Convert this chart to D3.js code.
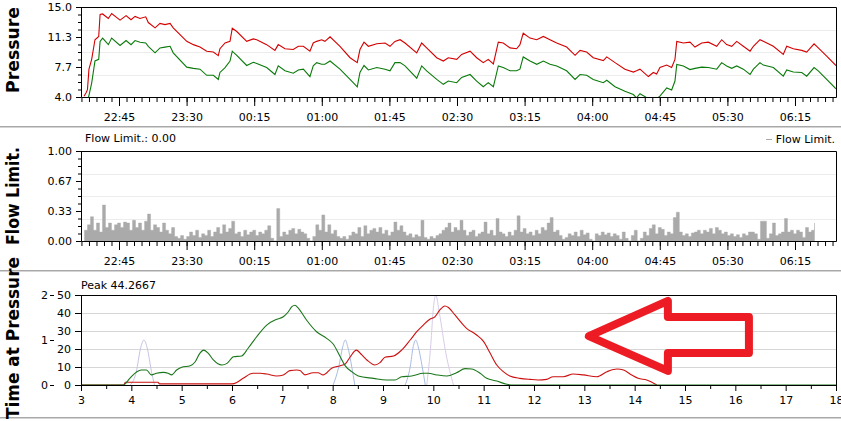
<!DOCTYPE html>
<html><head><meta charset="utf-8">
<script src="https://cdn.jsdelivr.net/npm/d3@7"></script>
<style>
body{margin:0;background:#fff}
svg{display:block;font-family:"DejaVu Sans",Verdana,sans-serif}
</style></head><body>
<svg id="c" width="841" height="421"></svg>
<script>
// ---------- DATA ----------
// Pressure panel: time in minutes after 22:00
const pressureTime = [21.7,23.0,24.0,25.0,26.8,29.0,31.5,32.4,34.1,37.9,40.1,45.7,49.7,53.0,55.7,59.0,62.8,64.5,69.0,72.3,75.6,79.0,81.1,90.1,94.5,98.9,103.4,107.8,111.1,112.2,115.6,118.9,120.4,123.4,130.0,134.4,136.7,143.3,148.8,151.0,155.5,161.0,164.4,167.7,172.1,174.3,176.6,179.9,182.1,185.5,192.1,198.8,203.6,205.4,208.1,211.0,216.6,222.1,225.4,228.7,232.1,235.4,243.2,246.5,249.8,256.5,260.9,264.2,269.8,273.1,278.7,283.1,287.5,290.8,294.2,297.5,300.8,305.3,309.7,311.9,314.1,318.6,323.1,327.5,331.9,336.4,343.0,348.6,351.9,356.3,360.7,367.4,369.7,375.2,381.8,387.4,389.5,391.8,397.4,400.7,402.9,405.1,409.6,412.9,415.1,416.3,420.7,425.1,428.4,432.9,437.3,442.9,446.2,449.5,452.9,456.2,460.6,465.1,467.3,471.7,473.9,480.6,487.2,489.5,493.9,499.5,502.8,507.7,510.5,516.1,522.3];
const pressureMax = [4.1,4.5,4.9,7.4,8.6,11.0,11.4,14.1,14.15,13.6,14.2,13.4,13.95,13.45,13.85,13.6,13.8,13.1,12.45,13.0,12.85,13.0,12.45,10.8,10.4,10.1,9.6,9.5,9.05,9.9,10.6,10.8,12.4,12.0,10.8,11.1,11.0,10.4,9.7,10.4,9.9,9.8,10.2,10.2,9.6,10.6,10.8,11.0,10.8,11.35,10.2,8.8,8.2,9.8,10.7,10.2,10.5,10.6,10.2,10.8,11.0,10.6,9.4,10.6,10.0,8.8,8.4,8.8,8.6,9.2,9.6,8.8,8.2,8.6,8.05,10.7,10.6,10.0,9.9,10.4,11.8,11.2,11.0,11.4,11.0,10.6,10.1,9.1,9.7,9.5,8.8,8.46,8.9,8.2,7.4,7.05,7.2,7.4,6.5,7.0,6.8,7.6,7.9,7.6,8.6,10.8,10.6,10.7,10.1,10.6,10.7,10.2,11.0,10.4,10.2,10.8,10.2,9.6,10.2,11.0,10.8,10.2,9.2,10.2,9.9,9.7,9.5,10.5,10.0,9.0,7.85];
const pressureMin = [3.0,3.2,3.5,4.2,5.7,8.4,8.6,10.8,11.2,10.4,11.2,10.3,10.9,10.4,10.9,10.7,10.6,10.2,9.4,10.0,10.1,10.2,9.4,7.65,7.5,7.4,6.65,6.65,6.15,7.0,7.6,8.4,9.6,9.1,7.85,8.25,8.1,7.6,6.75,7.8,7.2,6.9,7.3,7.4,6.5,7.8,8.2,8.0,8.0,8.4,7.4,6.15,5.25,7.0,7.85,7.3,7.6,7.4,7.2,8.2,8.2,7.8,6.3,7.8,7.2,6.15,5.55,5.95,5.75,6.4,6.75,5.95,5.25,5.75,5.25,7.8,7.6,7.2,7.2,7.4,8.9,8.4,8.0,8.4,8.0,7.8,7.2,6.15,6.75,6.65,6.15,5.75,6.05,5.25,4.7,4.3,3.9,4.4,3.8,3.9,3.8,4.1,5.1,4.85,5.95,7.98,7.8,7.35,7.5,7.65,7.6,7.4,8.2,7.8,7.5,7.8,7.4,6.75,7.4,8.2,7.9,7.6,6.55,7.3,7.05,7.0,6.55,7.6,7.2,6.15,5.0];
const pressureTicks = [4.0, 7.667, 11.333, 15.0];

// Flow limitation: one sample every 2 minutes starting 22:22
const flowStart = 22, flowStep = 2;
const flowLimit = [
0.12,0.18,0.27,0.12,0.2,0.1,0.4,0.15,0.2,0.12,
0.18,0.2,0.15,0.21,0.2,0.12,0.23,0.15,0.2,0.12,
0.22,0.3,0.12,0.18,0.15,0.1,0.2,0.12,0.08,0.15,
0.05,0.03,0.06,0.02,0.05,0.1,0.06,0.12,0.04,0.08,
0.06,0.12,0.05,0.1,0.15,0.08,0.18,0.1,0.14,0.22,
0.08,0.1,0.05,0.12,0.07,0.1,0.12,0.06,0.1,0.08,
0.12,0.17,0.03,0.0,0.36,0.05,0.1,0.07,0.12,0.14,
0.08,0.13,0.1,0.08,0.03,0.0,0.05,0.18,0.12,0.29,
0.1,0.18,0.08,0.12,0.05,0.03,0.05,0.02,0.06,0.1,
0.08,0.15,0.05,0.17,0.08,0.12,0.14,0.1,0.15,0.08,
0.12,0.06,0.1,0.21,0.12,0.17,0.1,0.06,0.08,0.04,
0.07,0.05,0.23,0.04,0.02,0.05,0.03,0.06,0.08,0.12,
0.15,0.2,0.1,0.15,0.12,0.23,0.12,0.06,0.1,0.12,
0.05,0.08,0.1,0.21,0.08,0.12,0.06,0.25,0.1,0.08,
0.05,0.1,0.06,0.12,0.28,0.1,0.14,0.08,0.1,0.06,
0.12,0.08,0.15,0.12,0.2,0.26,0.1,0.12,0.06,0.02,
0.04,0.08,0.06,0.1,0.05,0.12,0.07,0.09,0.02,0.0,
0.08,0.06,0.1,0.07,0.09,0.05,0.08,0.06,0.02,0.1,
0.03,0.0,0.06,0.12,0.0,0.03,0.1,0.06,0.14,0.18,
0.08,0.15,0.13,0.06,0.1,0.08,0.26,0.32,0.1,0.06,
0.08,0.05,0.09,0.1,0.12,0.08,0.12,0.1,0.14,0.08,
0.15,0.12,0.08,0.1,0.06,0.08,0.05,0.07,0.04,0.08,
0.06,0.1,0.1,0.08,0.02,0.22,0.22,0.03,0.08,0.2,
0.06,0.08,0.1,0.25,0.1,0.12,0.08,0.12,0.1,0.04,
0.15,0.1,0.12,0.2];
const flowTicks = [0, 1/3, 2/3, 1];

// Time at pressure panel: [pressure, minutes]
const timeAtMin = [[3,0],[3.84,0],[3.97,3.7],[4.11,7.4],[4.2,8.3],[4.3,8.3],[4.4,5.6],[4.5,6.5],[4.64,7.0],[4.73,6.5],[4.8,5.6],[4.9,8.3],[5.0,9.8],[5.17,10.7],[5.27,12.9],[5.36,17.6],[5.44,19.4],[5.53,17.6],[5.63,13.9],[5.8,11.1],[5.9,12.0],[6.03,15.7],[6.19,16.1],[6.32,20.4],[6.49,26.8],[6.69,33.3],[6.89,36.5],[7.02,37.9],[7.12,40.7],[7.19,43.5],[7.25,44.27],[7.32,42.6],[7.48,36.1],[7.68,29.6],[7.88,25.9],[8.01,22.8],[8.15,15.7],[8.25,10.6],[8.38,7.4],[8.51,5.0],[8.81,3.7],[9.07,2.8],[9.24,2.8],[9.37,4.6],[9.57,5.0],[9.8,6.5],[9.9,6.5],[10.07,5.6],[10.27,5.0],[10.46,6.8],[10.63,9.1],[10.76,8.9],[10.93,6.5],[11.06,3.7],[11.26,2.2],[11.46,0.4],[11.6,0],[18,0]];
const timeAtMax = [[3,0],[3.85,0],[3.88,1.5],[4.53,1.5],[4.56,0.6],[6.0,0.6],[6.1,1.5],[6.22,3.7],[6.42,6.5],[6.56,6.5],[6.69,6.1],[6.89,5.0],[7.02,5.6],[7.15,8.0],[7.29,8.3],[7.35,8.0],[7.45,5.6],[7.61,6.8],[7.71,6.8],[7.81,5.6],[7.98,9.3],[8.15,10.7],[8.25,11.7],[8.35,15.7],[8.47,19.4],[8.58,16.7],[8.68,13.9],[8.84,11.1],[8.94,12.4],[9.04,15.4],[9.21,16.1],[9.37,19.4],[9.54,25.0],[9.67,29.6],[9.8,33.3],[9.93,36.5],[10.03,37.9],[10.13,41.7],[10.23,43.9],[10.3,43.1],[10.43,38.9],[10.66,31.5],[10.86,27.8],[11.0,24.1],[11.13,17.6],[11.26,11.1],[11.39,7.4],[11.52,5.0],[11.72,3.7],[11.92,3.1],[12.08,2.8],[12.25,3.1],[12.38,4.6],[12.58,4.6],[12.78,6.1],[12.98,5.6],[13.25,4.6],[13.45,7.4],[13.65,8.9],[13.78,8.3],[13.94,5.6],[14.07,3.7],[14.24,2.8],[14.44,0]];
const timeAtZero = [[3,0],[11.5,0]];
// secondary (0-2) axis series
const eventsA = [[3.98,0],[4.1,0.3],[4.18,0.8],[4.25,1.0],[4.32,0.8],[4.4,0.3],[4.46,0]];
const eventsB = [[8.01,0],[8.12,0.4],[8.2,0.85],[8.25,1.0],[8.3,0.85],[8.38,0.4],[8.44,0]];
const eventsC = [[9.44,0],[9.54,0.4],[9.6,0.85],[9.65,1.0],[9.7,0.85],[9.78,0.4],[9.84,0]];
const eventsD = [[9.87,0],[9.95,0.9],[10.0,1.7],[10.05,2.0],[10.12,1.6],[10.25,0.7],[10.4,0]];
const timeAtTicks = [0,10,20,30,40,50];
const eventTicks = [0,1,2];
// annotation arrow, in (pressure, minutes) units of the bottom panel
const arrowPts = [[13.09,27.2],[14.66,46.7],[14.66,37.8],[16.27,37.8],[16.27,17.8],[14.66,17.8],[14.66,7.8]];

// ---------- DRAW ----------
const svg = d3.select('#c');
const L = 81, R = 836;
const FONT = '"DejaVu Sans", Verdana, sans-serif';

// separators
[[126.5,'#a8a8a8'],[127.5,'#d4d4d4'],[270.5,'#a8a8a8'],[271.5,'#d4d4d4'],[417.5,'#a8a8a8'],[418.5,'#d4d4d4']].forEach(([y,c])=>{
  svg.append('line').attr('x1',0).attr('x2',841).attr('y1',y).attr('y2',y).attr('stroke',c);
});

const xT = d3.scaleLinear().domain([19.7, 522.3]).range([L, R]);
const yP = d3.scaleLinear().domain([4, 15]).range([97, 7]);
const yF = d3.scaleLinear().domain([0, 1]).range([241, 151]);
const xB = d3.scaleLinear().domain([3, 18]).range([L, R]);
const yB = d3.scaleLinear().domain([0, 50]).range([385, 295]);
const yE = d3.scaleLinear().domain([0, 2]).range([385, 295]);

const fmtTime = m => { const t = (22*60 + Math.round(m)) % 1440; return String(Math.floor(t/60)).padStart(2,'0') + ':' + String(t%60).padStart(2,'0'); };
const majorT = d3.range(45, 521, 45);
const minorT = d3.range(20, 523, 5);

function styleAxis(g){ g.attr('font-size', 11).attr('font-family', FONT); g.selectAll('text').attr('fill','#000'); g.selectAll('line,path').attr('stroke','#000'); }

function grid(yScale, vals, color){
  svg.append('g').selectAll('line').data(vals).join('line')
    .attr('x1', L).attr('x2', R).attr('y1', d=>Math.round(yScale(d))+0.5).attr('y2', d=>Math.round(yScale(d))+0.5)
    .attr('stroke', color);
}
function frame(top, bot){
  svg.append('line').attr('x1',L).attr('x2',R+0.5).attr('y1',top+0.5).attr('y2',top+0.5).attr('stroke','#000');
  svg.append('line').attr('x1',R+0.5).attr('x2',R+0.5).attr('y1',top+0.5).attr('y2',bot+0.5).attr('stroke','#000');
}
function timeAxis(yPos){
  const g1 = svg.append('g').attr('transform',`translate(0,${yPos})`)
    .call(d3.axisBottom(xT).tickValues(minorT).tickSize(5).tickSizeOuter(0).tickFormat(''));
  g1.select('.domain').remove(); styleAxis(g1);
  const g2 = svg.append('g').attr('transform',`translate(0,${yPos})`)
    .call(d3.axisBottom(xT).tickValues(majorT).tickSize(9).tickSizeOuter(0).tickPadding(7).tickFormat(fmtTime));
  styleAxis(g2);
}
function valueAxis(yScale, ticks, fmt, minorStep){
  const minors = d3.range(yScale.domain()[0], yScale.domain()[1] + 1e-9, minorStep);
  const g1 = svg.append('g').attr('transform',`translate(${L},0)`)
    .call(d3.axisLeft(yScale).tickValues(minors).tickSize(3).tickSizeOuter(0).tickFormat(''));
  g1.select('.domain').remove(); styleAxis(g1);
  const g2 = svg.append('g').attr('transform',`translate(${L},0)`)
    .call(d3.axisLeft(yScale).tickValues(ticks).tickSize(5).tickSizeOuter(0).tickPadding(4).tickFormat(fmt));
  styleAxis(g2);
}
function yTitle(text, cy, len){
  svg.append('text').attr('transform',`translate(19,${cy}) rotate(-90)`)
    .attr('text-anchor','middle').attr('font-family',FONT).attr('font-weight','bold')
    .attr('font-size',17).attr('textLength',len).attr('lengthAdjust','spacingAndGlyphs').text(text);
}

// ---- Panel 1: Pressure ----
grid(yP, [6.75, 9.5, 12.25], '#ececec');
svg.append('defs').append('clipPath').attr('id','clipP').append('rect').attr('x',L).attr('y',7).attr('width',R-L).attr('height',90.5);
const lineP = vals => d3.line().x((d,i)=>xT(pressureTime[i])).y(d=>yP(d))(vals);
svg.append('path').attr('d', lineP(pressureMax)).attr('fill','none').attr('stroke','#d40000').attr('stroke-width',1.1).attr('clip-path','url(#clipP)');
svg.append('path').attr('d', lineP(pressureMin)).attr('fill','none').attr('stroke','#0a7a0a').attr('stroke-width',1.1).attr('clip-path','url(#clipP)');
frame(7, 97);
valueAxis(yP, pressureTicks, d=>d.toFixed(1), 11/12);
timeAxis(97);
yTitle('Pressure', 50, 86);

// ---- Panel 2: Flow Limit ----
grid(yF, [0.25, 0.5, 0.75], '#ececec');
const areaF = d3.area().curve(d3.curveStepAfter)
  .x((d,i)=>xT(flowStart + i*flowStep)).y0(yF(0)).y1(d=>yF(d));
svg.append('path').attr('d', areaF(flowLimit)).attr('fill','#aaaaaa').attr('stroke','#aaaaaa').attr('stroke-width',0.4);
frame(151, 241);
valueAxis(yF, flowTicks, d=>d.toFixed(2), 1/12);
timeAxis(241);
yTitle('Flow Limit.', 196, 98);
svg.append('text').attr('x',85).attr('y',142).attr('font-family',FONT).attr('font-size',11).text('Flow Limit.: 0.00');
svg.append('line').attr('x1',766).attr('x2',772).attr('y1',139.5).attr('y2',139.5).attr('stroke','#aaaaaa');
svg.append('text').attr('x',835).attr('y',143).attr('text-anchor','end').attr('font-family',FONT).attr('font-size',11).text('Flow Limit.');

// ---- Panel 3: Time at Pressure ----
grid(yB, [10,20,30,40], '#d6d6d6');
const lineB = d3.line().curve(d3.curveMonotoneX).x(d=>xB(d[0])).y(d=>yB(d[1]));
const lineE = d3.line().curve(d3.curveMonotoneX).x(d=>xB(d[0])).y(d=>yE(d[1]));
svg.append('path').attr('d', lineE(eventsA)).attr('fill','none').attr('stroke','#c4c4e4').attr('stroke-width',1);
svg.append('path').attr('d', lineE(eventsB)).attr('fill','none').attr('stroke','#a8bce4').attr('stroke-width',1);
svg.append('path').attr('d', lineE(eventsC)).attr('fill','none').attr('stroke','#a8bce4').attr('stroke-width',1);
svg.append('path').attr('d', lineE(eventsD)).attr('fill','none').attr('stroke','#d8cce8').attr('stroke-width',1);
svg.append('path').attr('d', lineB(timeAtMax)).attr('fill','none').attr('stroke','#cc1010').attr('stroke-width',1.1);
svg.append('path').attr('d', lineB(timeAtMin)).attr('fill','none').attr('stroke','#1a761a').attr('stroke-width',1.1);
svg.append('path').attr('d', d3.line().x(d=>xB(d[0])).y(d=>yB(d[1])+0.5)(timeAtZero)).attr('fill','none').attr('stroke','#3048a0').attr('stroke-width',1).attr('stroke-dasharray','1,1');
frame(295, 385);
{
  const g1 = svg.append('g').attr('transform','translate(0,385)')
    .call(d3.axisBottom(xB).tickValues(d3.range(3.5,18,1)).tickSize(4).tickSizeOuter(0).tickFormat(''));
  g1.select('.domain').remove(); styleAxis(g1);
  const g2 = svg.append('g').attr('transform','translate(0,385)')
    .call(d3.axisBottom(xB).tickValues(d3.range(3,19,1)).tickSize(6).tickSizeOuter(0).tickPadding(5).tickFormat(d3.format('d')));
  styleAxis(g2);
  const g3 = svg.append('g').attr('transform',`translate(${L},0)`)
    .call(d3.axisLeft(yB).tickValues(timeAtTicks).tickSize(6).tickSizeOuter(0).tickPadding(4).tickFormat(d3.format('d')));
  styleAxis(g3);
  const g4 = svg.append('g').attr('transform','translate(54,0)')
    .call(d3.axisLeft(yE).tickValues(eventTicks).tickSize(4).tickSizeOuter(0).tickPadding(2).tickFormat(d3.format('d')));
  g4.select('.domain').remove(); styleAxis(g4);
}
svg.append('text').attr('x',81).attr('y',289).attr('font-family',FONT).attr('font-size',11).text('Peak 44.2667');
yTitle('Time at Pressure', 338, 162);

// arrow annotation
svg.append('path').attr('d', d3.line().x(d=>xB(d[0])).y(d=>yB(d[1]))(arrowPts) + 'Z')
  .attr('fill','none').attr('stroke','#ed1c24').attr('stroke-width',8).attr('stroke-linejoin','round');
</script>
</body></html>
